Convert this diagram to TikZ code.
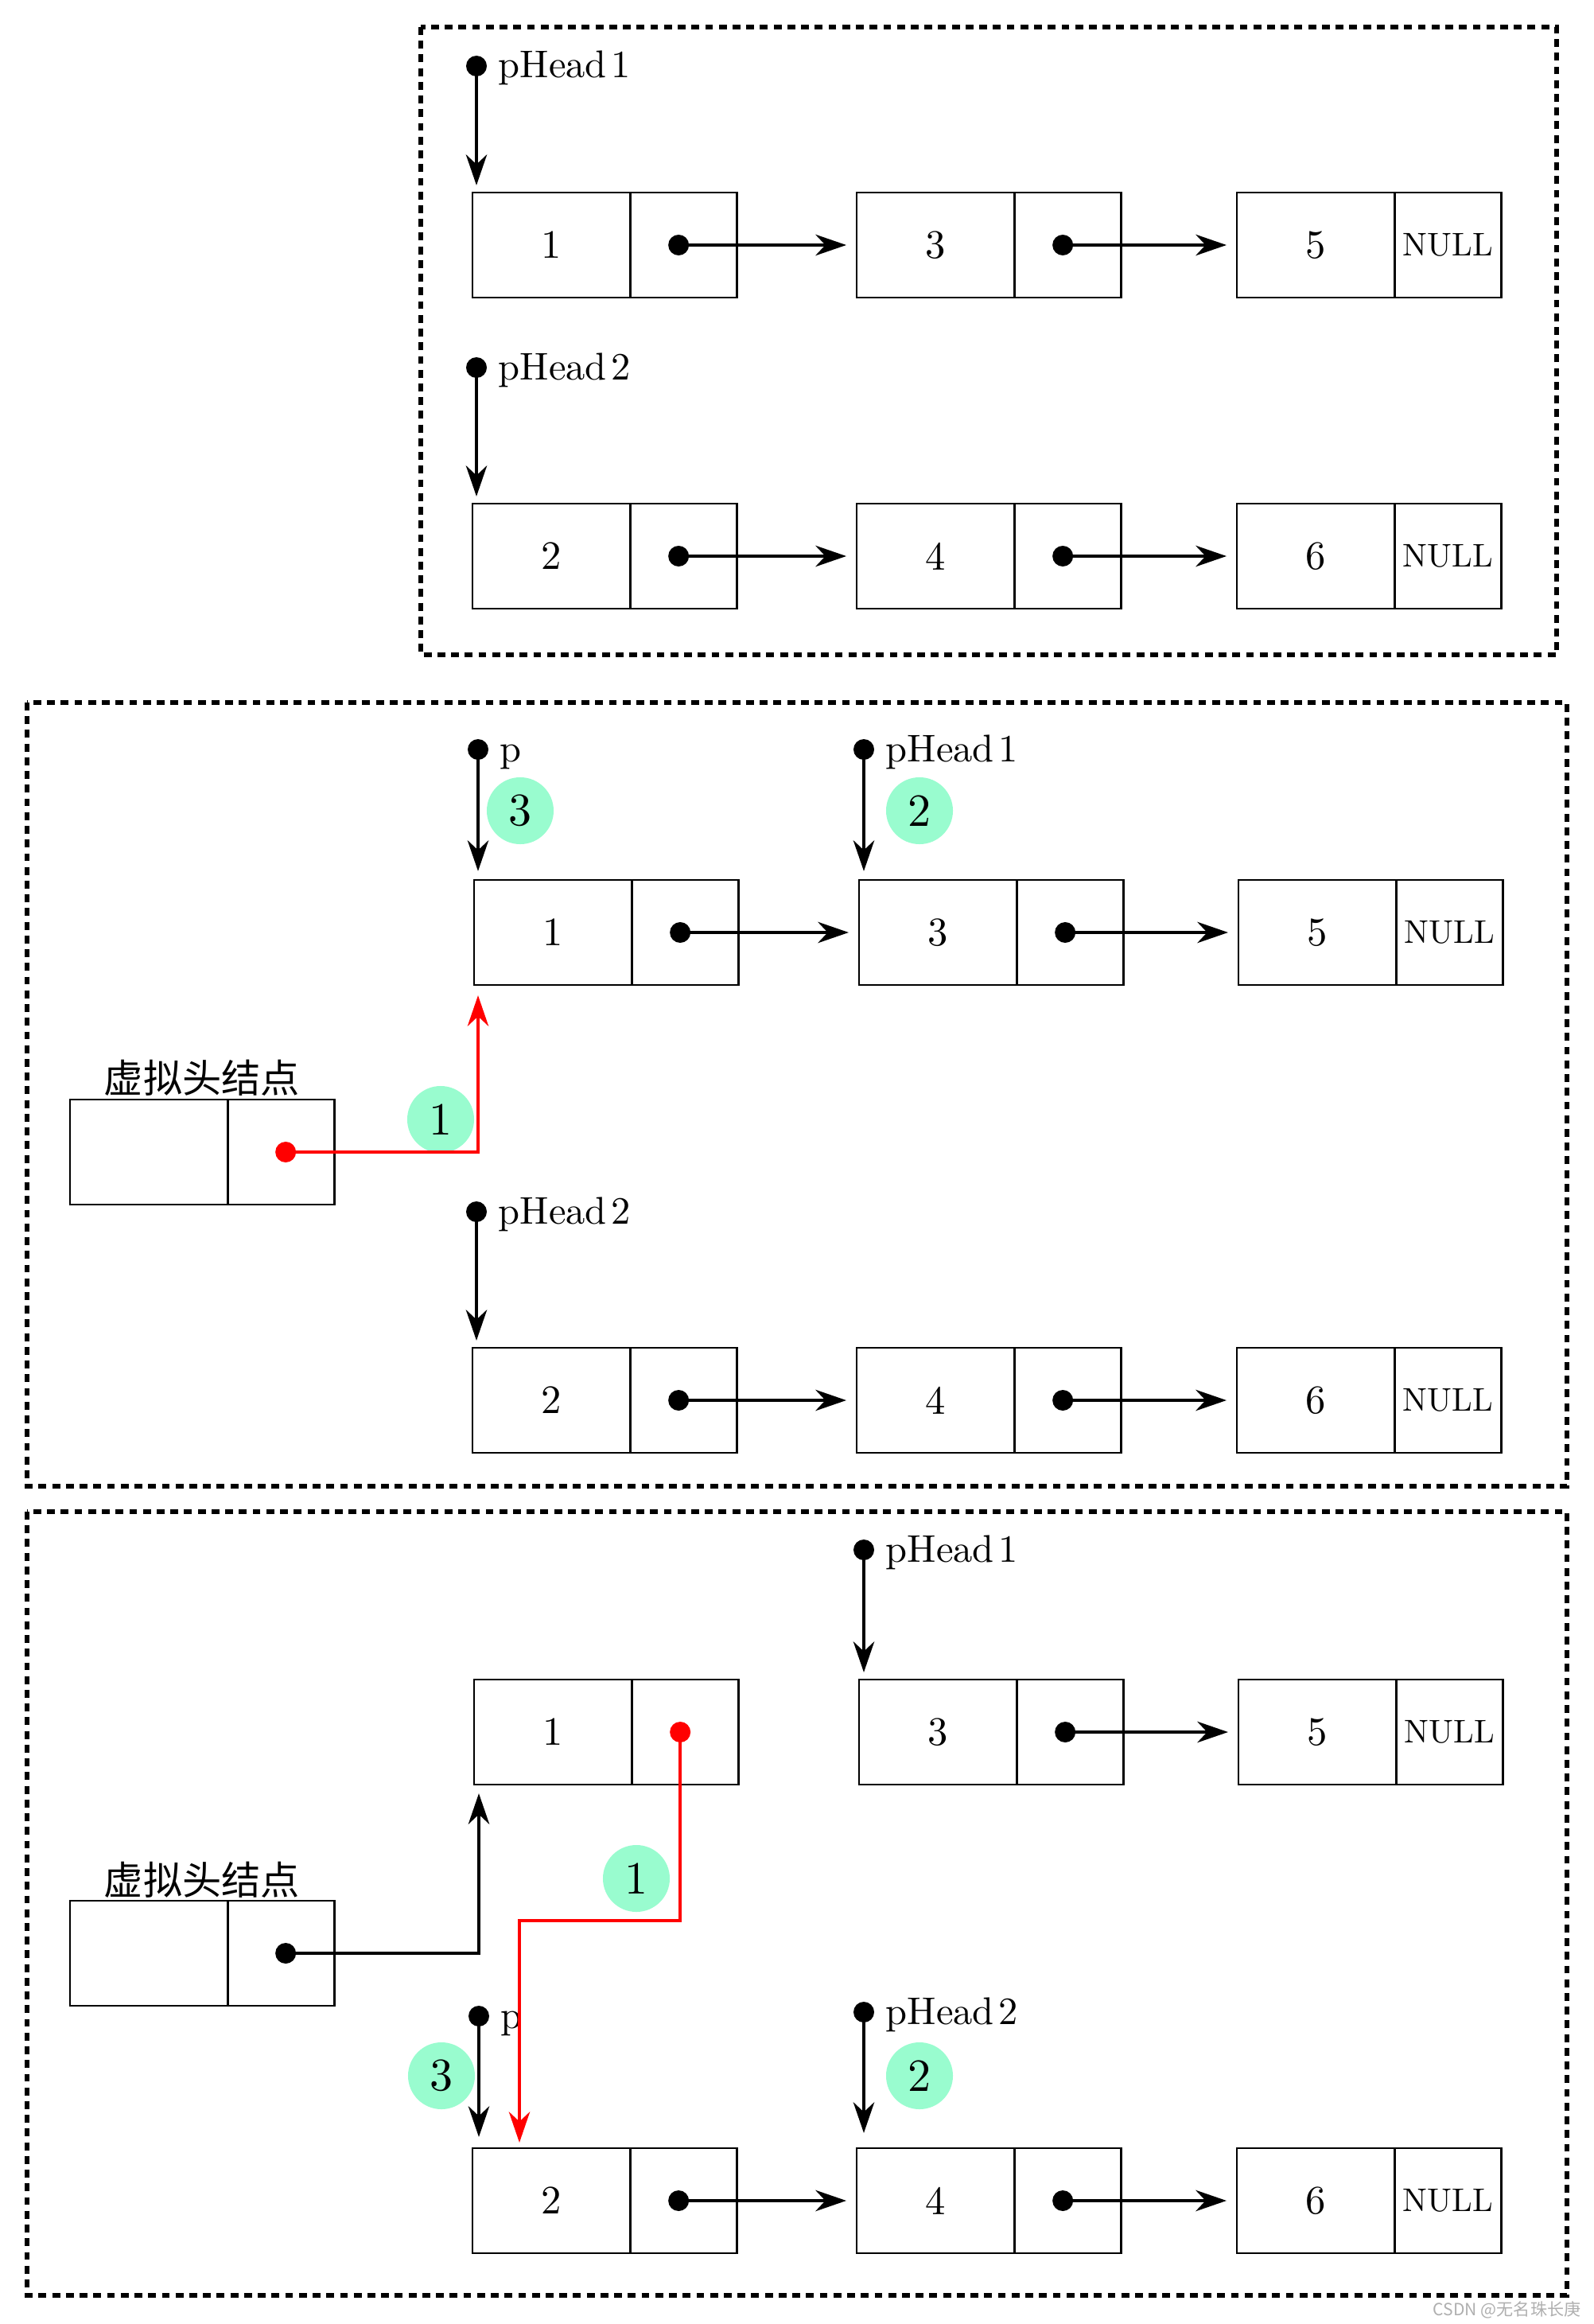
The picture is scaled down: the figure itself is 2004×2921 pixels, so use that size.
\documentclass[tikz,border=0pt]{standalone}
\usepackage{fontspec}
\setmainfont{lmroman10-regular.otf}
\newfontfamily\cjk{Noto Sans CJK SC}
\usetikzlibrary{arrows.meta,calc}
\definecolor{mint}{RGB}{153,252,207}
\definecolor{wmgray}{RGB}{175,175,175}
\tikzset{
  datapart/.style={draw, line width=0.8pt, minimum width=1.98cm, minimum height=1.32cm, inner sep=0pt, outer sep=0pt, anchor=west, font=\fontsize{14.4}{16}\selectfont},
  ptrpart/.style={draw, line width=0.8pt, minimum width=1.34cm, minimum height=1.32cm, inner sep=0pt, outer sep=0pt, anchor=west, font=\fontsize{11.7}{14}\selectfont},
  ptrarrow/.style={line width=1.2pt, -{Stealth[length=11pt,width=7.5pt,inset=3.5pt]}},
  redarrow/.style={red, line width=1.1pt, -{Stealth[length=11pt,width=7.5pt,inset=3.5pt]}},
  lbl/.style={inner sep=0pt, anchor=base west, font=\fontsize{13.8}{16}\selectfont},
  cjklbl/.style={inner sep=0pt, anchor=base, font=\cjk\fontsize{14}{16}\selectfont},
  stepmark/.style={circle, fill=mint, minimum size=0.84cm, inner sep=0pt, font=\fontsize{16.5}{18}\selectfont},
  panelbox/.style={line width=1.5pt, dash pattern=on 2.8pt off 2.1pt},
}
\newcommand\lnode[5]{\node[datapart] (#1v) at (#2,#3) {#4}; \node[ptrpart] (#1p) at (#1v.east) {#5};}
\newcommand\llink[2]{\coordinate (#1d) at ($(#1p.center)+(-6,0)$); \fill (#1d) circle (13); \draw[ptrarrow] (#1d) -- ($(#2v.west)+(-13,0)$);}
\newcommand\plabel[4]{\coordinate (#1) at (#2,#3); \fill (#1) circle (13); \node[lbl] (#1t) at ($(#1)+(27,15)$) {#4};}
\begin{document}
\begin{tikzpicture}[x=0.01cm,y=-0.01cm]
\useasboundingbox (0,0) rectangle (2004,2921);

% ---------- panel boxes ----------
\draw[panelbox] (529,34) rectangle (1957,823);
\draw[panelbox] (34,883) rectangle (1970,1868);
\draw[panelbox] (34,1900) rectangle (1970,2885);

% ---------- step marks ----------
\node[stepmark] (s23) at (654,1019) {3};
\node[stepmark] (s22) at (1156,1019) {2};
\node[stepmark] (s21) at (554,1407) {1};
\node[stepmark] (s31) at (800,2361) {1};
\node[stepmark] (s33) at (555,2609) {3};
\node[stepmark] (s32) at (1156,2609) {2};

% ---------- panel 1 ----------
\lnode{a1}{594}{308}{1}{}
\lnode{a2}{1077}{308}{3}{}
\lnode{a3}{1555}{308}{5}{NULL}
\llink{a1}{a2}
\llink{a2}{a3}
\lnode{b1}{594}{699}{2}{}
\lnode{b2}{1077}{699}{4}{}
\lnode{b3}{1555}{699}{6}{NULL}
\llink{b1}{b2}
\llink{b2}{b3}
\plabel{h11}{599}{83}{pHead\kern1.5pt 1}
\draw[ptrarrow] (h11) -- ($(h11 |- a1v.north)+(0,-9)$);
\plabel{h12}{599}{462}{pHead\kern1.5pt 2}
\draw[ptrarrow] (h12) -- ($(h12 |- b1v.north)+(0,-9)$);

% ---------- panel 2 ----------
\lnode{c1}{596}{1172}{1}{}
\lnode{c2}{1080}{1172}{3}{}
\lnode{c3}{1557}{1172}{5}{NULL}
\llink{c1}{c2}
\llink{c2}{c3}
\lnode{e1}{594}{1760}{2}{}
\lnode{e2}{1077}{1760}{4}{}
\lnode{e3}{1555}{1760}{6}{NULL}
\llink{e1}{e2}
\llink{e2}{e3}
\plabel{p2}{601}{942}{p}
\draw[ptrarrow] (p2) -- ($(p2 |- c1v.north)+(0,-11)$);
\plabel{h21}{1086}{942}{pHead\kern1.5pt 1}
\draw[ptrarrow] (h21) -- ($(h21 |- c2v.north)+(0,-11)$);
\plabel{h22}{599}{1523}{pHead\kern1.5pt 2}
\draw[ptrarrow] (h22) -- ($(h22 |- e1v.north)+(0,-9)$);
\lnode{m2}{88}{1448}{}{}
\node[cjklbl] (m2l) at (254,1373) {虚拟头结点};
\coordinate (m2d) at ($(m2p.center)+(6,0)$);
\draw[redarrow] (m2d) -| ($(p2 |- c1v.south)+(0,13)$);
\fill[red] (m2d) circle (13);

% ---------- panel 3 ----------
\lnode{f1}{596}{2177}{1}{}
\lnode{f2}{1080}{2177}{3}{}
\lnode{f3}{1557}{2177}{5}{NULL}
\llink{f2}{f3}
\lnode{g1}{594}{2766}{2}{}
\lnode{g2}{1077}{2766}{4}{}
\lnode{g3}{1555}{2766}{6}{NULL}
\llink{g1}{g2}
\llink{g2}{g3}
\plabel{h31}{1086}{1948}{pHead\kern1.5pt 1}
\draw[ptrarrow] (h31) -- ($(h31 |- f2v.north)+(0,-9)$);
\plabel{p3}{602}{2534}{p}
\draw[ptrarrow] (p3) -- ($(p3 |- g1v.north)+(0,-14)$);
\plabel{h32}{1086}{2529}{pHead\kern1.5pt 2}
\draw[ptrarrow] (h32) -- ($(h32 |- g2v.north)+(0,-19)$);
\lnode{m3}{88}{2455}{}{}
\node[cjklbl] (m3l) at (254,2381) {虚拟头结点};
\coordinate (m3d) at ($(m3p.center)+(6,0)$);
\fill (m3d) circle (13);
\draw[ptrarrow] (m3d) -| ($(p3 |- f1v.south)+(0,11)$);
\coordinate (f1d) at ($(f1p.center)+(-6,0)$);
\coordinate (rc3) at (653,2414);
\draw[redarrow] (f1d) |- (rc3) -- ($(rc3 |- g1v.north)+(0,-7)$);
\fill[red] (f1d) circle (13);

% ---------- watermark ----------
\node[anchor=base east, text=wmgray, inner sep=0pt, font=\cjk\fontsize{6}{7}\selectfont] (wmk) at (1988,2910) {CSDN @无名珠长庚};
\end{tikzpicture}
\end{document}
